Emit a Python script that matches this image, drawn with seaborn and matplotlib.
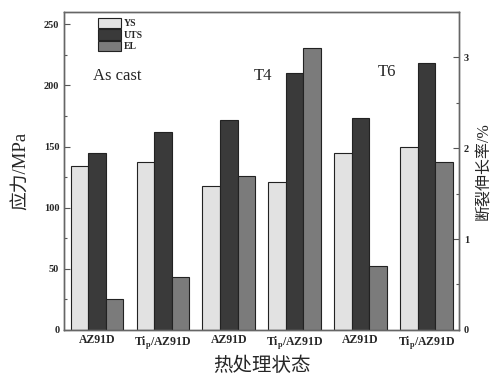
import matplotlib
matplotlib.use("Agg")
import matplotlib.pyplot as plt
import seaborn as sns
import pandas as pd
from matplotlib.ticker import MultipleLocator
from matplotlib.patches import Patch

categories = ["AZ91D", "Ti$_\\mathregular{p}$/AZ91D", "AZ91D ", "Ti$_\\mathregular{p}$/AZ91D ", "AZ91D  ", "Ti$_\\mathregular{p}$/AZ91D  "]
tick_labels = ["AZ91D", "Ti$_\\mathregular{p}$/AZ91D", "AZ91D", "Ti$_\\mathregular{p}$/AZ91D", "AZ91D", "Ti$_\\mathregular{p}$/AZ91D"]
ys_values = [134, 137, 118, 121, 145, 150]
uts_values = [145, 162, 172, 210, 173, 218]
el_values = [0.34, 0.58, 1.69, 3.10, 0.70, 1.85]
series = ["YS", "UTS", "EL"]
colors = {"YS": "#e2e2e2", "UTS": "#3a3a3a", "EL": "#7b7b7b"}

sns.set_style("ticks")
plt.rcParams["font.family"] = ["Liberation Serif", "Noto Sans CJK SC"]
plt.rcParams["mathtext.fontset"] = "custom"
plt.rcParams["mathtext.rm"] = "Liberation Serif:bold"

zeros = [0] * 6
df_left = pd.DataFrame({
    "cat": categories * 3,
    "series": ["YS"] * 6 + ["UTS"] * 6 + ["EL"] * 6,
    "value": ys_values + uts_values + zeros,
})
df_right = pd.DataFrame({
    "cat": categories * 3,
    "series": ["YS"] * 6 + ["UTS"] * 6 + ["EL"] * 6,
    "value": zeros + zeros + el_values,
})

fig = plt.figure(figsize=(4.97, 3.77), dpi=100)
ax = fig.add_axes([0.129, 0.125, 0.795, 0.843])
ax2 = ax.twinx()

sns.barplot(data=df_left, x="cat", y="value", hue="series", hue_order=series,
            order=categories, palette=colors, width=0.8, edgecolor="#222222",
            linewidth=0.8, ax=ax, legend=False)
sns.barplot(data=df_right, x="cat", y="value", hue="series", hue_order=series,
            order=categories, palette=colors, width=0.8, edgecolor="#222222",
            linewidth=0.8, ax=ax2, legend=False)
for a in (ax, ax2):
    for p in list(a.patches):
        if p.get_height() == 0:
            p.remove()

ax.set_ylim(0, 260)
ax2.set_ylim(0, 3.5)
ax.set_xlim(-0.5, 5.5)
ax.yaxis.set_major_locator(MultipleLocator(50))
ax.yaxis.set_minor_locator(MultipleLocator(25))
ax2.yaxis.set_major_locator(MultipleLocator(1))
ax2.yaxis.set_minor_locator(MultipleLocator(0.5))

ax.set_xticks(range(6))
ax.set_xticklabels(tick_labels, fontsize=8.5, fontweight="bold")
ax.tick_params(axis="x", length=0, pad=3)
for a in (ax, ax2):
    a.tick_params(axis="y", which="major", direction="in", length=4, width=0.8,
                  labelsize=7.5, color="#555555")
    a.tick_params(axis="y", which="minor", direction="in", length=2.5, width=0.8,
                  color="#555555")
    for s in a.spines.values():
        s.set_visible(True)
        s.set_color("#666666")
        s.set_linewidth(1.0)
for lbl in ax.get_yticklabels() + ax2.get_yticklabels():
    lbl.set_fontweight("bold")

ax.set_xlabel("热处理状态", fontsize=14, labelpad=4)
ax.set_ylabel("应力/MPa", fontsize=13.5, labelpad=10)
ax2.set_ylabel("断裂伸长率/%", fontsize=11.5, labelpad=5)

scale = 3.5 / 260
ax2.text(0.305, 208 * scale, "As cast", fontsize=12, ha="center", va="center")
ax2.text(2.52, 208 * scale, "T4", fontsize=12, ha="center", va="center")
ax2.text(4.41, 211 * scale, "T6", fontsize=12, ha="center", va="center")

handles = [Patch(facecolor=colors[s], edgecolor="#222222", linewidth=0.8) for s in series]
leg = ax2.legend(handles, series, loc="upper left", bbox_to_anchor=(0.07, 1.0),
                 frameon=False, handlelength=2.4, handleheight=1.3,
                 labelspacing=0.08, handletextpad=0.3, borderaxespad=0.2,
                 prop={"weight": "bold", "size": 7})

fig.savefig("out.png", dpi=100)
